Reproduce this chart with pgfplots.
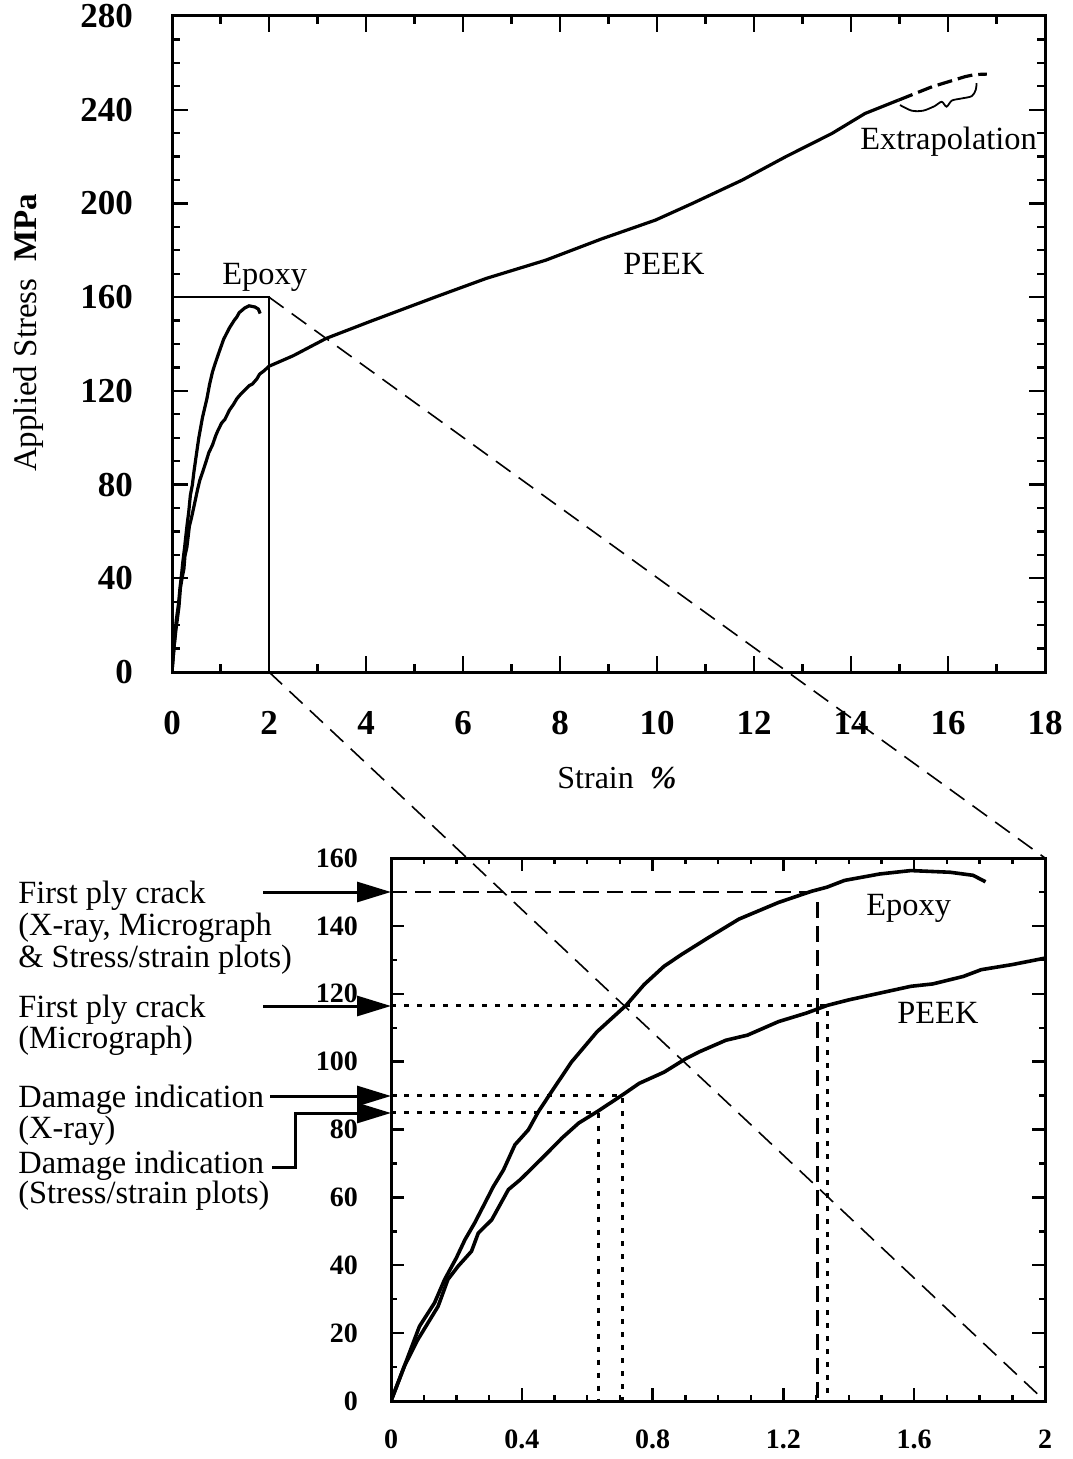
\documentclass[border=0pt]{standalone}
\usepackage{fontspec}
\setmainfont{Liberation Serif}
\usepackage{pgfplots}
\usepackage{pgfplotstable}
\pgfplotsset{compat=1.18}
\usetikzlibrary{arrows.meta}

% stress-strain data, strain in %, stress in MPa
\pgfplotstableread{
x y
0 0
0.041 10.3
0.087 22
0.133 28.9
0.164 35.8
0.2 42.2
0.226 47.5
0.256 52.5
0.287 58.3
0.313 63.2
0.344 68.1
0.379 75.5
0.42 79.9
0.451 85.3
0.49 91
0.552 99.9
0.63 108.8
0.72 116.7
0.774 122.7
0.835 128.1
0.889 131.6
0.97 136.5
1.064 142
1.185 146.9
1.286 150.2
1.333 151.4
1.387 153.4
1.495 155.3
1.59 156.3
1.71 155.8
1.78 154.9
1.818 153
}\epoxy

\pgfplotstableread{
x y
0 0
0.041 10.3
0.082 18.1
0.144 27.9
0.174 35.8
0.205 39.7
0.246 44.1
0.267 49.5
0.308 53.4
0.359 62.3
0.395 65.2
0.431 68.6
0.477 73
0.523 77.5
0.574 81.9
0.631 85.3
0.708 90.2
0.759 93.6
0.835 96.9
0.902 100.9
0.943 102.9
1.024 106.3
1.09 107.8
1.185 111.8
1.27 114.3
1.335 116.6
1.40 118.2
1.495 120.2
1.59 122.2
1.657 122.9
1.75 125.1
1.805 127.1
1.9 128.6
2.0 130.5
2.5 135
3.18 142.4
4.07 149.5
5.45 160.2
6.48 168
7.71 175.8
8.85 184.8
9.97 192.9
10.73 200
11.76 210
12.65 219.9
13.61 229.9
14.29 238.4
14.98 244.1
}\peek

\pgfplotstableread{
x y
14.98 244.1
15.67 249.8
16.35 254.1
16.55 255
16.8 255.2
}\extrap

\begin{document}
\begin{tikzpicture}
\path[use as bounding box] (0,0) rectangle (536pt,-729.5pt);

\begin{axis}[
  name=top, scale only axis,
  width=436.5pt, height=328pt,
  at={(86pt,-336pt)}, anchor=south west,
  xmin=0, xmax=18, ymin=0, ymax=280,
  xtick={0,2,...,18}, minor x tick num=1,
  ytick={0,40,...,280}, minor y tick num=3,
  tick align=inside, major tick length=8pt, minor tick length=4pt,
  axis line style={line width=1.5pt},
  every tick/.style={black, line width=1.2pt},
  /pgf/number format/assume math mode=true,
  ticklabel style={font=\fontsize{17.5}{17.5}\selectfont\bfseries},
  xticklabel style={yshift=-16pt},
  yticklabel style={xshift=-16pt},
]
\addplot[black, line width=0.7pt] coordinates {(0,160) (2,160) (2,0)};
\addplot[black, line width=1.6pt] table {\epoxy};
\addplot[black, line width=1.6pt] table {\peek};
\addplot[black, line width=1.6pt, dash pattern=on 7.5pt off 3pt] table {\extrap};
\addplot[black, line width=0.9pt, smooth] coordinates {
  (15.01,242.0) (15.25,239.6) (15.49,239.6) (15.73,241.6) (15.87,243.4)
  (15.97,241.3) (16.08,243.9) (16.28,244.8) (16.49,245.8) (16.57,248.4) (16.59,251.3)};
\coordinate (tA) at (axis cs:2,160);
\coordinate (tB) at (axis cs:2,0);
\end{axis}

\begin{axis}[
  name=bot, scale only axis,
  width=327pt, height=271.5pt,
  at={(195.5pt,-700.5pt)}, anchor=south west,
  xmin=0, xmax=2, ymin=0, ymax=160,
  xtick={0,0.4,0.8,1.2,1.6,2}, xticklabels={0,0.4,0.8,1.2,1.6,2},
  minor x tick num=3,
  ytick={0,20,...,160}, minor y tick num=1,
  tick align=inside, major tick length=6.5pt, minor tick length=3pt,
  axis line style={line width=1.5pt},
  every tick/.style={black, line width=1.2pt},
  /pgf/number format/assume math mode=true,
  ticklabel style={font=\fontsize{14}{14}\selectfont\bfseries},
  xticklabel style={yshift=-11pt},
  yticklabel style={xshift=-13pt},
]
\addplot[black, line width=1.3pt, dash pattern=on 8pt off 4pt] coordinates {(0,150) (1.286,150)};
\addplot[black, line width=1.3pt, dash pattern=on 8pt off 4pt] coordinates {(1.305,147) (1.305,0)};
\addplot[black, line width=1.5pt, dash pattern=on 2.5pt off 4pt] coordinates {(0,116.5) (1.335,116.5) (1.335,0)};
\addplot[black, line width=1.5pt, dash pattern=on 2.5pt off 4pt] coordinates {(0,90) (0.708,90) (0.708,0)};
\addplot[black, line width=1.5pt, dash pattern=on 2.5pt off 4pt] coordinates {(0,85) (0.636,85) (0.636,0)};
\addplot[black, line width=1.8pt] table {\epoxy};
\addplot[black, line width=1.8pt] table {\peek};
\coordinate (bA) at (axis cs:2,160);
\coordinate (bB) at (axis cs:2,0);
\end{axis}

\draw[black, line width=0.8pt, dash pattern=on 9pt off 5pt] (tA) -- (bA);
\draw[black, line width=0.8pt, dash pattern=on 9pt off 5pt] (tB) -- (bB);

\begin{scope}[x=0.5pt, y=-0.5pt, font=\fontsize{16.2}{16.5}\selectfont,
              every node/.style={inner sep=0pt}]
  % axis titles of the upper chart
  \node[rotate=90, anchor=base, font=\fontsize{16.5}{17}\selectfont] at (36,333) {Applied Stress~~\textbf{MPa}};
  \node[anchor=base west, font=\fontsize{16}{16}\selectfont] at (557,788) {Strain~~\textbf{\textit{\%}}};
  \node[anchor=base west] at (222,285) {Epoxy};
  \node[anchor=base west] at (623,275) {PEEK};
  \node[anchor=base west] at (860,150) {Extrapolation};
  \node[anchor=base west] at (866,915) {Epoxy};
  \node[anchor=base west] at (897,1023) {PEEK};
  % damage annotations
  \node[anchor=base west] at (18,903) {First ply crack};
  \node[anchor=base west] at (18,935) {(X-ray, Micrograph};
  \node[anchor=base west] at (18,967) {\& Stress/strain plots)};
  \node[anchor=base west] at (18,1017) {First ply crack};
  \node[anchor=base west] at (18,1048) {(Micrograph)};
  \node[anchor=base west] at (18,1107) {Damage indication};
  \node[anchor=base west] at (18,1138) {(X-ray)};
  \node[anchor=base west] at (18,1173) {Damage indication};
  \node[anchor=base west] at (18,1203) {(Stress/strain plots)};
  \draw[line width=1.5pt, -{Triangle[length=17pt,width=10pt]}] (263,892) -- (391,892);
  \draw[line width=1.5pt, -{Triangle[length=17pt,width=10pt]}] (263,1006) -- (391,1006);
  \draw[line width=1.5pt, -{Triangle[length=17pt,width=10pt]}] (270,1096) -- (391,1096);
  \draw[line width=1.5pt, -{Triangle[length=17pt,width=10pt]}] (272,1167) -- (295,1167) -- (295,1113) -- (391,1113);
\end{scope}
\end{tikzpicture}
\end{document}
